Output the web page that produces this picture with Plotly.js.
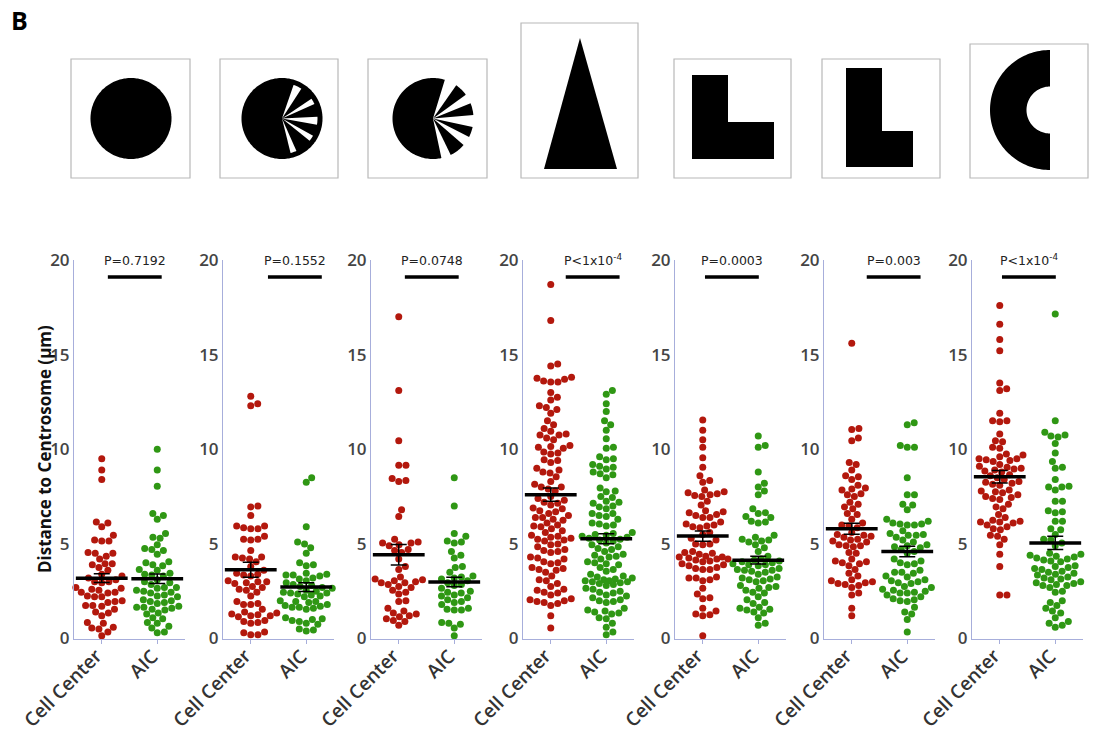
<!DOCTYPE html>
<html>
<head>
<meta charset="utf-8">
<script src="https://cdn.plot.ly/plotly-3.0.1.min.js"></script>
<style>html,body{margin:0;padding:0;background:#fff;}#chart{width:1094px;height:733px;}</style>
</head>
<body>
<div id="chart"></div>
<script>
// ---------------- DATA ----------------
const categories = ['Cell Center', 'AIC'];
const pLabels = ['P=0.7192', 'P=0.1552', 'P=0.0748', 'P&lt;1x10<sup>-4</sup>', 'P=0.0003', 'P=0.003', 'P&lt;1x10<sup>-4</sup>'];

const cc1 = [9.5, 8.9, 8.4, 6.15, 6.1, 5.9, 5.45, 5.2, 5.15, 5.15, 4.55, 4.5, 4.35, 4.2, 4.5, 3.95, 3.95, 3.9, 3.75, 3.6, 3.4, 3.3, 3.2, 3.1, 3.0, 2.95, 3.0, 2.7, 2.65, 2.6, 2.55, 2.45, 2.4, 2.45, 2.2, 2.25, 2.2, 2.0, 1.95, 1.9, 1.75, 1.7, 1.75, 1.55, 1.4, 1.35, 1.2, 0.85, 0.8, 0.6, 0.55, 0.5, 0.35, 0.15];
const aic1 = [10.0, 8.9, 8.05, 6.6, 6.5, 6.3, 5.55, 5.35, 5.3, 4.95, 4.75, 4.7, 4.45, 4.65, 4.05, 4.0, 3.9, 3.85, 3.65, 3.6, 3.45, 3.4, 3.35, 3.3, 3.1, 3.0, 2.95, 2.85, 2.7, 2.7, 2.65, 2.55, 2.5, 2.45, 2.4, 2.3, 2.25, 2.2, 2.05, 2.0, 1.95, 1.9, 1.85, 1.7, 1.65, 1.65, 1.6, 1.55, 1.5, 1.35, 1.3, 1.1, 1.05, 0.85, 0.8, 0.65, 0.55, 0.35, 0.3];

const cc2 = [12.8, 12.4, 12.3, 7.0, 6.95, 6.5, 5.95, 5.95, 5.85, 5.8, 5.8, 5.4, 5.25, 5.2, 5.25, 4.65, 4.3, 4.25, 4.3, 4.2, 4.05, 3.8, 3.6, 3.45, 3.4, 3.35, 3.3, 3.05, 3.0, 3.0, 2.95, 2.9, 2.75, 2.7, 2.6, 2.55, 2.45, 2.25, 1.95, 1.85, 1.8, 1.8, 1.55, 1.4, 1.35, 1.3, 1.25, 1.2, 1.2, 1.15, 0.95, 0.9, 0.85, 0.8, 0.35, 0.3, 0.2, 0.2];
const aic2 = [8.5, 8.25, 5.9, 5.1, 5.0, 4.8, 4.5, 4.0, 3.9, 3.85, 3.45, 3.4, 3.35, 3.35, 3.3, 3.2, 3.15, 3.05, 2.95, 2.85, 2.8, 2.75, 2.7, 2.65, 2.55, 2.5, 2.45, 2.4, 2.4, 2.35, 2.3, 2.25, 2.2, 2.0, 1.95, 1.95, 1.9, 1.8, 1.75, 1.7, 1.65, 1.65, 1.6, 1.55, 1.1, 1.05, 1.0, 0.95, 0.9, 0.8, 0.75, 0.5, 0.45, 0.4];

const cc3 = [17.0, 13.1, 10.45, 9.15, 9.15, 8.45, 8.35, 8.3, 6.8, 6.45, 5.25, 5.1, 5.05, 5.05, 4.95, 4.9, 4.7, 4.65, 4.55, 4.2, 3.8, 3.65, 3.25, 3.15, 3.1, 3.05, 3.0, 2.95, 2.95, 2.85, 2.75, 2.7, 2.55, 2.45, 2.35, 2.0, 1.95, 1.6, 1.45, 1.35, 1.3, 1.2, 1.15, 1.05, 0.95, 0.9, 0.7];
const aic3 = [8.5, 7.0, 5.55, 5.4, 5.15, 5.1, 5.05, 4.6, 4.4, 4.25, 3.8, 3.75, 3.5, 3.3, 3.25, 3.2, 3.15, 3.05, 2.95, 2.85, 2.8, 2.65, 2.5, 2.45, 2.4, 2.3, 2.25, 2.15, 2.05, 1.95, 1.9, 1.8, 1.6, 1.55, 1.5, 1.5, 0.85, 0.8, 0.75, 0.55, 0.15];

const cc4 = [18.7, 16.8, 14.5, 14.4, 13.8, 13.75, 13.7, 13.6, 13.55, 13.55, 13.0, 12.75, 12.6, 12.3, 12.2, 12.1, 11.9, 11.5, 11.3, 11.1, 10.95, 10.8, 10.75, 10.75, 10.6, 10.5, 10.2, 10.15, 10.1, 10.05, 9.85, 9.8, 9.75, 9.45, 9.4, 9.3, 9.0, 8.9, 8.8, 8.75, 8.55, 8.3, 8.15, 8.0, 8.0, 7.9, 7.8, 7.5, 7.4, 7.3, 7.2, 7.15, 7.05, 6.9, 6.85, 6.75, 6.7, 6.6, 6.5, 6.4, 6.4, 6.3, 6.25, 6.1, 6.0, 5.95, 5.9, 5.8, 5.7, 5.6, 5.45, 5.4, 5.35, 5.3, 5.25, 5.2, 5.15, 5.0, 4.95, 4.85, 4.7, 4.65, 4.6, 4.55, 4.3, 4.25, 4.2, 4.05, 4.0, 3.95, 3.75, 3.7, 3.65, 3.6, 3.5, 3.3, 3.1, 3.05, 2.9, 2.75, 2.6, 2.55, 2.45, 2.4, 2.3, 2.1, 2.05, 2.0, 1.95, 1.9, 1.85, 1.75, 1.2, 0.55];
const aic4 = [13.1, 12.9, 12.4, 12.0, 11.5, 11.3, 11.0, 10.55, 10.1, 10.05, 9.6, 9.5, 9.45, 9.2, 9.1, 9.05, 8.95, 8.8, 8.7, 8.65, 8.5, 7.95, 7.8, 7.75, 7.5, 7.45, 7.25, 7.2, 7.15, 7.0, 6.95, 6.85, 6.6, 6.6, 6.5, 6.45, 6.3, 6.1, 6.05, 6.0, 5.95, 5.6, 5.55, 5.5, 5.45, 5.4, 5.35, 5.3, 5.25, 5.2, 5.15, 5.05, 4.95, 4.85, 4.75, 4.7, 4.6, 4.45, 4.4, 4.35, 4.3, 4.2, 4.05, 4.0, 3.95, 3.9, 3.75, 3.65, 3.55, 3.4, 3.3, 3.25, 3.2, 3.15, 3.1, 3.05, 3.05, 3.0, 3.0, 2.95, 2.9, 2.85, 2.8, 2.65, 2.6, 2.5, 2.45, 2.4, 2.3, 2.25, 2.15, 2.05, 2.0, 1.95, 1.9, 1.6, 1.5, 1.45, 1.4, 1.35, 1.3, 1.1, 1.05, 0.8, 0.6, 0.35, 0.2];

const cc5 = [11.55, 11.0, 10.5, 10.1, 9.55, 9.05, 8.6, 8.35, 8.25, 7.85, 7.75, 7.7, 7.65, 7.6, 7.55, 7.5, 7.25, 7.05, 6.75, 6.7, 6.65, 6.55, 6.5, 6.4, 6.4, 6.15, 6.05, 6.0, 5.95, 5.9, 5.85, 5.6, 5.5, 5.3, 5.2, 5.0, 5.0, 4.95, 4.6, 4.55, 4.5, 4.45, 4.35, 4.3, 4.3, 4.25, 4.2, 4.2, 4.15, 4.1, 4.05, 3.95, 3.9, 3.85, 3.75, 3.7, 3.65, 3.65, 3.25, 3.2, 3.2, 3.1, 3.05, 2.65, 2.35, 2.15, 2.1, 1.6, 1.45, 1.3, 1.25, 1.2, 0.15];
const aic5 = [10.7, 10.2, 10.1, 8.8, 8.2, 8.0, 7.8, 7.6, 6.85, 6.65, 6.6, 6.45, 6.4, 6.2, 6.15, 6.1, 5.45, 5.35, 5.25, 5.2, 5.15, 5.1, 4.95, 4.8, 4.6, 4.35, 4.2, 4.15, 4.1, 4.05, 4.0, 3.95, 3.9, 3.9, 3.85, 3.7, 3.65, 3.6, 3.6, 3.55, 3.5, 3.4, 3.25, 3.2, 3.15, 3.1, 3.05, 3.0, 2.8, 2.75, 2.7, 2.65, 2.55, 2.45, 2.4, 2.2, 2.05, 1.9, 1.85, 1.65, 1.6, 1.55, 1.5, 1.4, 1.35, 1.1, 0.8, 0.7];

const cc6 = [15.6, 11.1, 11.05, 10.6, 10.45, 9.3, 9.2, 8.9, 8.6, 8.55, 8.4, 8.1, 7.95, 7.9, 7.85, 7.65, 7.6, 7.5, 7.2, 7.1, 6.95, 6.85, 6.6, 6.55, 6.3, 6.1, 6.0, 5.95, 5.85, 5.6, 5.5, 5.45, 5.4, 5.35, 5.25, 5.2, 5.15, 5.1, 4.95, 4.9, 4.9, 4.85, 4.55, 4.5, 4.2, 4.1, 4.05, 4.0, 3.95, 3.85, 3.65, 3.45, 3.3, 3.1, 3.05, 3.0, 2.95, 2.9, 2.85, 2.8, 2.7, 2.4, 2.3, 1.6, 1.2];
const aic6 = [11.4, 11.3, 10.2, 10.1, 10.1, 8.5, 7.6, 7.6, 7.1, 7.05, 6.8, 6.3, 6.2, 6.1, 6.05, 6.05, 6.0, 6.0, 5.7, 5.55, 5.5, 5.45, 5.45, 5.35, 5.2, 5.1, 4.95, 4.9, 4.85, 4.8, 4.7, 4.6, 4.5, 4.2, 4.1, 4.0, 3.95, 3.9, 3.6, 3.5, 3.5, 3.45, 3.3, 3.25, 3.1, 3.05, 3.0, 2.95, 2.9, 2.75, 2.7, 2.6, 2.55, 2.5, 2.45, 2.4, 2.4, 2.3, 2.2, 2.1, 2.05, 2.0, 1.95, 1.65, 1.4, 1.3, 1.0, 0.35];

const cc7 = [17.6, 16.6, 15.8, 15.2, 13.5, 13.2, 13.1, 11.9, 11.5, 11.5, 11.45, 10.8, 10.45, 10.4, 10.1, 10.05, 9.75, 9.7, 9.6, 9.5, 9.5, 9.45, 9.4, 9.35, 9.2, 9.1, 9.05, 9.0, 8.95, 8.9, 8.85, 8.8, 8.65, 8.6, 8.5, 8.4, 8.3, 8.25, 8.2, 8.15, 8.1, 7.85, 7.8, 7.75, 7.7, 7.6, 7.5, 7.45, 7.4, 7.35, 7.1, 6.95, 6.85, 6.55, 6.4, 6.25, 6.2, 6.15, 6.15, 6.1, 6.0, 5.9, 5.8, 5.75, 5.45, 5.4, 5.25, 4.95, 4.45, 3.8, 2.3, 2.3];
const aic7 = [17.15, 11.5, 10.9, 10.75, 10.7, 10.65, 10.3, 9.8, 9.35, 9.05, 9.0, 8.4, 8.05, 8.0, 8.0, 7.85, 7.25, 7.25, 6.75, 6.7, 6.65, 6.2, 6.2, 5.8, 5.75, 5.5, 5.25, 5.2, 5.05, 4.9, 4.5, 4.45, 4.4, 4.35, 4.3, 4.25, 4.2, 4.15, 4.1, 4.05, 3.85, 3.8, 3.75, 3.7, 3.65, 3.55, 3.5, 3.45, 3.4, 3.35, 3.25, 3.2, 3.15, 3.1, 3.0, 2.95, 2.9, 2.85, 2.8, 2.8, 2.7, 2.5, 2.45, 2.0, 1.9, 1.75, 1.6, 1.45, 1.35, 1.1, 0.9, 0.8, 0.7, 0.6];

const meanCC  = [3.19, 3.63, 4.43, 7.60, 5.41, 5.80, 8.55];
const semCC   = [0.23, 0.40, 0.54, 0.35, 0.27, 0.29, 0.33];
const meanAIC = [3.16, 2.72, 2.98, 5.27, 4.14, 4.60, 5.05];
const semAIC  = [0.25, 0.23, 0.25, 0.26, 0.20, 0.28, 0.35];

const ccGroups  = [cc1, cc2, cc3, cc4, cc5, cc6, cc7];
const aicGroups = [aic1, aic2, aic3, aic4, aic5, aic6, aic7];

// ---------------- STYLE / LAYOUT ----------------
const W = 1094, H = 733;
const RED = '#b3180d', GREEN = '#2f9714', AXC = '#a7aedb';
const panelLeft = [74, 223, 371, 523, 675, 824, 972];
const panelW = 111;
const yTopPx = 260, yBotPx = 638.5;
const barStart = [0.11, 0.31, 0.11, 0.27, 0.04, 0.27, 0.04];
const barLen = 0.97;
const pxPerY = (yBotPx - yTopPx) / 20;
const pxPerX = panelW / 2;

// beeswarm layout (pixel space), with a maximum half-width; beyond it points may overlap slightly
function swarm(vals, d, cap) {
  const idx = vals.map((v, i) => i).sort((a, b) => vals[a] - vals[b]);
  const placed = [];
  const out = new Array(vals.length);
  for (const i of idx) {
    const y = vals[i] * pxPerY;
    const near = placed.filter(p => Math.abs(p.y - y) < d);
    const ok = c => near.every(p => (p.x - c) * (p.x - c) + (p.y - y) * (p.y - y) >= d * d - 1e-6);
    const cands = [0];
    for (const p of near) {
      const dx = Math.sqrt(d * d - (p.y - y) * (p.y - y));
      cands.push(p.x + dx, p.x - dx);
    }
    cands.sort((a, b) => Math.abs(a) - Math.abs(b));
    let chosen = null;
    for (const c of cands) {
      if (Math.abs(c) <= cap && ok(c)) { chosen = c; break; }
    }
    if (chosen === null) {
      let best = -1;
      for (let c = -cap; c <= cap; c += 0.5) {
        let m = Infinity;
        for (const p of near) m = Math.min(m, (p.x - c) * (p.x - c) + (p.y - y) * (p.y - y));
        if (m > best + 1e-6 || (Math.abs(m - best) < 1e-6 && Math.abs(c) < Math.abs(chosen))) { best = m; chosen = c; }
      }
    }
    placed.push({x: chosen, y: y});
    out[i] = chosen / pxPerX;
  }
  return out;
}

const traces = [];
const layout = {
  width: W, height: H,
  margin: {l: 0, r: 0, t: 0, b: 0},
  showlegend: false,
  paper_bgcolor: '#ffffff',
  plot_bgcolor: 'rgba(0,0,0,0)',
  shapes: [],
  annotations: []
};

for (let i = 0; i < 7; i++) {
  const s = i ? String(i + 1) : '';
  const xr = 'x' + s, yr = 'y' + s;
  const L = panelLeft[i];
  layout['xaxis' + s] = {
    domain: [L / W, (L + panelW) / W], range: [-0.5, 1.5], anchor: yr,
    tickvals: [0, 1], showticklabels: false,
    showline: true, linecolor: AXC, linewidth: 1,
    ticks: 'outside', ticklen: 4, tickcolor: AXC,
    showgrid: false, zeroline: false, fixedrange: true
  };
  layout['yaxis' + s] = {
    domain: [1 - yBotPx / H, 1 - yTopPx / H], range: [0, 20], anchor: xr,
    tickvals: [0, 5, 10, 15, 20], ticks: '',
    showline: true, linecolor: AXC, linewidth: 1,
    showgrid: false, zeroline: false, fixedrange: true,
    tickfont: {family: 'Open Sans', size: 17, color: '#444', weight: 600}
  };
  // rotated category labels, ending at their tick
  categories.forEach((c, k) => layout.annotations.push({
    xref: xr, yref: 'paper', x: k + 0.15, y: 1 - 641 / H,
    text: c, textangle: -45, showarrow: false, xanchor: 'right', yanchor: 'top',
    font: {family: 'Open Sans', size: 19, color: '#333', weight: 600}
  }));
  const groups = [ccGroups[i], aicGroups[i]];
  const cols = [RED, GREEN];
  groups.forEach((g, k) => {
    const off = swarm(g, 7.2, 26);
    traces.push({
      type: 'scatter', mode: 'markers', xaxis: xr, yaxis: yr, cliponaxis: false,
      x: off.map(o => k + o), y: g,
      marker: {size: 7, color: cols[k], line: {width: 0}},
      hoverinfo: 'y'
    });
  });
  [[meanCC[i], semCC[i]], [meanAIC[i], semAIC[i]]].forEach((ms, k) => {
    traces.push({
      type: 'scatter', mode: 'markers', xaxis: xr, yaxis: yr, cliponaxis: false,
      x: [k], y: [ms[0]],
      marker: {symbol: 'line-ew', size: 37, color: '#000', line: {width: 3.5, color: '#000'}},
      error_y: {type: 'data', array: [ms[1]], visible: true, color: '#000', thickness: 1.5, width: 8},
      hoverinfo: 'y'
    });
  });
  // significance bar and P value
  layout.shapes.push({
    type: 'line', xref: xr, yref: yr,
    x0: barStart[i], x1: barStart[i] + barLen, y0: 19.1, y1: 19.1,
    line: {color: '#000', width: 3.5}
  });
  layout.annotations.push({
    xref: xr, yref: yr, x: barStart[i] + barLen / 2, y: 20,
    text: pLabels[i], showarrow: false, xanchor: 'center', yanchor: 'middle',
    font: {family: 'DejaVu Sans', size: 12.5, color: '#222'}
  });
}

// y-axis title and panel letter
layout.annotations.push({
  xref: 'paper', yref: 'paper', x: 44 / W, y: 1 - 449 / H,
  text: 'Distance to Centrosome (µm)', textangle: -90, showarrow: false,
  xanchor: 'center', yanchor: 'middle',
  font: {family: 'Open Sans', size: 17, color: '#111', weight: 700}
});
layout.annotations.push({
  xref: 'paper', yref: 'paper', x: 9 / W, y: 1 - 20 / H,
  text: 'B', showarrow: false, xanchor: 'left', yanchor: 'middle',
  font: {family: 'Open Sans', size: 25, color: '#000', weight: 700}
});

// ---------------- SHAPE ILLUSTRATIONS (pixel -> paper) ----------------
const fx = px => px / W;
const fy = py => 1 - py / H;
function pathFromPts(pts) {
  return 'M ' + pts.map(p => fx(p[0]).toFixed(5) + ',' + fy(p[1]).toFixed(5)).join(' L ') + ' Z';
}
function arcPts(cx, cy, r, a0, a1) {
  const pts = [];
  const n = Math.max(4, Math.ceil(Math.abs(a1 - a0) / 2));
  for (let j = 0; j <= n; j++) {
    const a = (a0 + (a1 - a0) * j / n) * Math.PI / 180;
    pts.push([cx + r * Math.cos(a), cy - r * Math.sin(a)]);
  }
  return pts;
}
function wedge(cx, cy, r, a0, a1) {
  return pathFromPts([[cx, cy]].concat(arcPts(cx, cy, r, a0, a1)));
}
function blackPath(d) {
  return {type: 'path', xref: 'paper', yref: 'paper', path: d, fillcolor: '#000', line: {width: 0}, layer: 'above'};
}
function whitePath(d) {
  return {type: 'path', xref: 'paper', yref: 'paper', path: d, fillcolor: '#fff', line: {width: 0}, layer: 'above'};
}
const boxes = [[71, 59, 190, 178], [220, 59, 338, 178], [368, 59, 487, 178], [521, 23, 638, 178], [674, 59, 791, 178], [822, 59, 940, 178], [970, 44, 1088, 178]];
boxes.forEach(b => layout.shapes.push({
  type: 'rect', xref: 'paper', yref: 'paper', x0: fx(b[0]), x1: fx(b[2]), y0: fy(b[3]), y1: fy(b[1]),
  line: {color: '#b8b8b8', width: 1.2}, fillcolor: 'rgba(0,0,0,0)', layer: 'above'
}));
// 1. full disc
layout.shapes.push(blackPath(pathFromPts(arcPts(131, 118.5, 40.5, 0, 360))));
// 2. disc with white spokes
const gaps = [[55, 73], [22, 36], [-12, 5], [-41, -27], [-78, -64]];
layout.shapes.push(blackPath(pathFromPts(arcPts(282, 118.5, 40.5, 0, 360))));
gaps.forEach(g => layout.shapes.push(whitePath(wedge(282, 118.5, 35.5, g[0] + 2, g[1] - 2))));
// 3. partial disc with black spokes
layout.shapes.push(blackPath(wedge(433, 118.5, 40.5, 73, 282)));
[[36, 55], [5, 22], [-27, -12], [-64, -41]].forEach(g => layout.shapes.push(blackPath(wedge(433, 118.5, 40.5, g[0], g[1]))));
// 4. triangle
layout.shapes.push(blackPath(pathFromPts([[580, 38], [617, 169], [544, 169]])));
// 5. L shape
layout.shapes.push(blackPath(pathFromPts([[692, 75], [728, 75], [728, 122], [774, 122], [774, 159], [692, 159]])));
// 6. tall L shape
layout.shapes.push(blackPath(pathFromPts([[846, 68], [882, 68], [882, 131], [913, 131], [913, 167], [846, 167]])));
// 7. C shape
const cOuter = arcPts(1050, 110, 60, 90, 270);
const cInner = arcPts(1050, 110, 23.5, 270, 90);
layout.shapes.push(blackPath(pathFromPts(cOuter.concat(cInner))));

Plotly.newPlot('chart', traces, layout, {displayModeBar: false, staticPlot: true});
</script>
</body>
</html>
